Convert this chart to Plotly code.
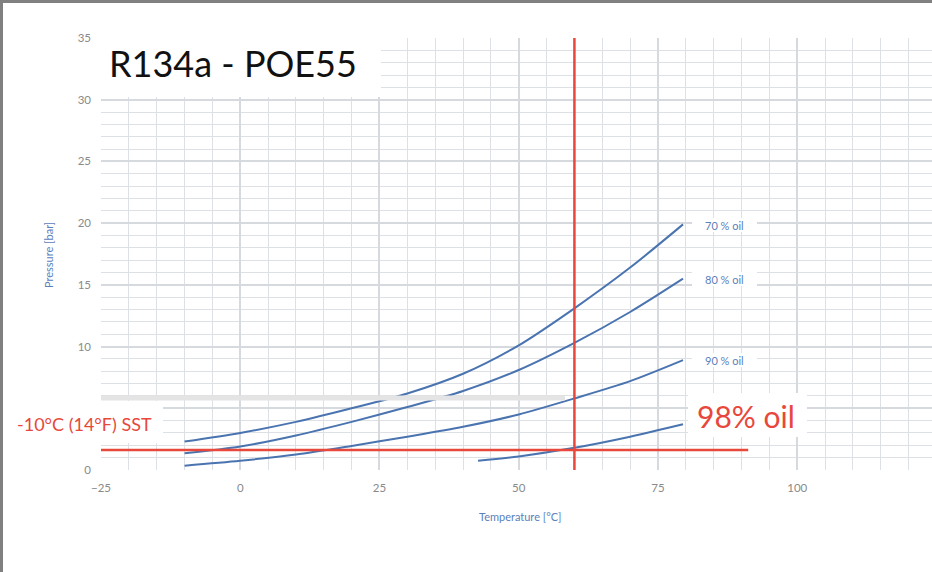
import plotly.graph_objects as go

# Solubility curves of R134a in POE55 oil: saturation pressure vs temperature
temp_70 = [-10, 0, 10, 20, 30, 40, 50, 60, 70, 79.5]
pres_70 = [2.3, 3.0, 3.9, 5.0, 6.2, 7.8, 10.1, 13.1, 16.4, 19.9]

temp_80 = [-10, 0, 10, 20, 30, 40, 50, 60, 70, 79.5]
pres_80 = [1.35, 1.9, 2.8, 3.9, 5.1, 6.4, 8.1, 10.3, 12.8, 15.5]

temp_90 = [-10, 0, 10, 20, 30, 40, 50, 60, 70, 79.5]
pres_90 = [0.35, 0.75, 1.25, 1.95, 2.7, 3.5, 4.5, 5.8, 7.2, 8.9]

temp_98 = [42.7, 50, 60, 70, 79.5]
pres_98 = [0.75, 1.1, 1.8, 2.7, 3.7]

curve_labels = ["70 % oil", "80 % oil", "90 % oil"]

# Reference lines: suction pressure at -10 °C SST and 60 °C temperature
sst_pressure = 1.62
sst_line_temps = [-25, 91.2]
ref_temp = 60
ref_line_pres = [0, 35]

x_range = [-25, 124.2]
y_range = [0, 35]

W, H = 932, 572
L, R, T, B = 101, 0, 38, 102
PW, PH = W - L - R, H - T - B


def px(xp):
    return (xp - L) / PW


def py(yp):
    return (H - B - yp) / PH


BLUE = "#4a74b0"
RED = "#e8473b"
LABEL_BLUE = "#5b80bc"
FONT = "Lato, Open Sans, sans-serif"

fig = go.Figure()

for tx, py_vals in [(temp_70, pres_70), (temp_80, pres_80), (temp_90, pres_90), (temp_98, pres_98)]:
    fig.add_trace(go.Scatter(x=tx, y=py_vals, mode="lines", line=dict(color=BLUE, width=2, shape="spline", smoothing=0.8),
                             hoverinfo="skip", showlegend=False))

# light grey strip crossing the chart
band_x = [-25, 58.3, 58.3, -25]
band_y = [5.64, 5.64, 6.04, 6.04]
fig.add_trace(go.Scatter(x=band_x, y=band_y, fill="toself", mode="lines", line=dict(width=0),
                         fillcolor="#e4e4e4", hoverinfo="skip", showlegend=False))

fig.add_trace(go.Scatter(x=sst_line_temps, y=[sst_pressure, sst_pressure], mode="lines",
                         line=dict(color=RED, width=2.5), hoverinfo="skip", showlegend=False))
fig.add_trace(go.Scatter(x=[ref_temp, ref_temp], y=ref_line_pres, mode="lines",
                         line=dict(color=RED, width=2.5), hoverinfo="skip", showlegend=False))

shapes = []


def white_box(x0, y0, x1, y1):
    shapes.append(dict(type="rect", xref="paper", yref="paper", x0=px(x0), x1=px(x1), y0=py(y1), y1=py(y0),
                       fillcolor="white", line=dict(width=0), layer="above"))


white_box(100, 34, 381, 97)      # title
white_box(3, 401, 163, 443)     # SST label
white_box(688, 393, 807, 437)   # 98% label
white_box(692, 218, 757, 232)   # 70%
white_box(692, 272, 757, 286)   # 80%
white_box(692, 353, 757, 367)   # 90%

# frame edges
shapes.append(dict(type="rect", xref="paper", yref="paper", x0=px(0), x1=px(3), y0=py(H), y1=py(0),
                   fillcolor="#808080", line=dict(width=0), layer="above"))
shapes.append(dict(type="rect", xref="paper", yref="paper", x0=px(0), x1=px(W), y0=py(3), y1=py(0),
                   fillcolor="#808080", line=dict(width=0), layer="above"))

annotations = [
    dict(text="R134a - POE55", x=px(233), y=py(63), font=dict(size=36, color="#111111", family=FONT)),
    dict(text="-10°C (14°F) SST", x=px(84), y=py(424), font=dict(size=18, color=RED, family=FONT)),
    dict(text="98% oil", x=px(746), y=py(416), font=dict(size=30, color=RED, family=FONT)),
    dict(text="Temperature [°C]", x=px(520), y=py(516), font=dict(size=11, color=LABEL_BLUE, family=FONT)),
    dict(text="Pressure [bar]", x=px(48), y=py(255), textangle=-90, font=dict(size=11, color=LABEL_BLUE, family=FONT)),
]
for label, yp in zip(curve_labels, [225, 279, 360]):
    annotations.append(dict(text=label, x=px(724), y=py(yp), font=dict(size=11, color=LABEL_BLUE, family=FONT)))
for a in annotations:
    a.update(xref="paper", yref="paper", showarrow=False, xanchor="center", yanchor="middle")

fig.update_layout(
    width=W, height=H, autosize=False,
    margin=dict(l=L, r=R, t=T, b=B),
    paper_bgcolor="white", plot_bgcolor="white",
    shapes=shapes, annotations=annotations,
    font=dict(family=FONT),
)

axis_common = dict(showline=False, zeroline=False, ticks="", gridcolor="#d6d9de", gridwidth=1.5,
                   tickfont=dict(size=11.5, color="#8a8a8a", family=FONT), ticklabelstandoff=9)
minor_grid = dict(showgrid=True, gridcolor="#dde0e5", gridwidth=1.4)
fig.update_xaxes(range=x_range, tick0=0, dtick=25, **axis_common, minor=dict(dtick=5, tick0=0, **minor_grid))
fig.update_yaxes(range=y_range, tick0=0, dtick=5, **axis_common, minor=dict(dtick=1, tick0=0, **minor_grid))

fig.write_html("out.html")
